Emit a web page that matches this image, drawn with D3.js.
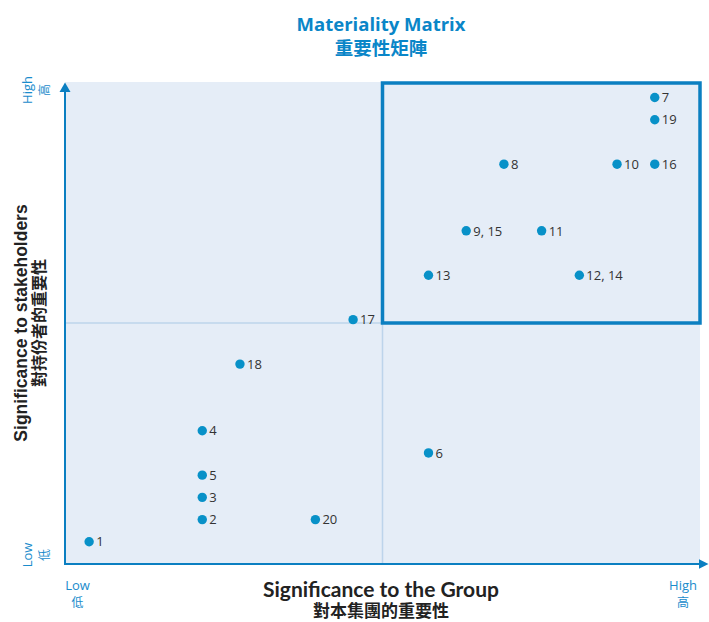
<!DOCTYPE html>
<html><head><meta charset="utf-8">
<script src="https://cdn.jsdelivr.net/npm/d3@7"></script>
<style>
html,body{margin:0;padding:0;background:#fff;}
svg{display:block;}
</style></head>
<body>
<script>
// ---- data ----
const labels = ["1","2","3","4","5","6","7","8","9, 15","10","11","12, 14","13","16","17","18","19","20"];
const groupScore = [1,4,4,4,4,10,16,12,11,15,13,14,10,16,8,5,16,7];        // x: significance to the Group
const stakeholderScore = [1,2,3,6,4,5,21,18,15,18,15,13,13,18,11,9,20,2];  // y: significance to stakeholders
const xDomain = [0.36, 17.2];
const yDomain = [0, 21.7];
const lowLabel = ["Low","低"];
const highLabel = ["High","高"];
const titleLines = ["Materiality Matrix","重要性矩陣"];
const xTitle = ["Significance to the Group","對本集團的重要性"];
const yTitle = ["Significance to stakeholders","對持份者的重要性"];

const W = 709, H = 622;
const x = d3.scaleLinear().domain(xDomain).range([65, 700]);
const y = d3.scaleLinear().domain(yDomain).range([564, 82]);
const xMid = (xDomain[0]+xDomain[1])/2, yMid = (yDomain[0]+yDomain[1])/2;

const blue = "#0b7fc1", dot = "#0891c8", tick = "#1a8ccc";
const svg = d3.select("body").append("svg").attr("width", W).attr("height", H);

// background
svg.append("rect").attr("x", x(xDomain[0])).attr("y", y(yDomain[1]))
  .attr("width", x(xDomain[1]) - x(xDomain[0])).attr("height", y(yDomain[0]) - y(yDomain[1]))
  .attr("fill", "#e5edf7");

// quadrant lines
svg.append("line").attr("x1", x(xMid)).attr("x2", x(xMid)).attr("y1", y(yDomain[0])).attr("y2", y(yDomain[1]))
  .attr("stroke", "#bdd4eb").attr("stroke-width", 1.5);
svg.append("line").attr("x1", x(xDomain[0])).attr("x2", x(xDomain[1])).attr("y1", y(yMid)).attr("y2", y(yMid))
  .attr("stroke", "#bdd4eb").attr("stroke-width", 1.5);

// high-high box
svg.append("rect").attr("x", x(xMid)).attr("y", y(yDomain[1]) + 1)
  .attr("width", x(xDomain[1]) - x(xMid)).attr("height", y(yMid) - y(yDomain[1]) - 1)
  .attr("fill", "none").attr("stroke", blue).attr("stroke-width", 3.5);

// axes
svg.append("line").attr("x1", x(xDomain[0])).attr("x2", x(xDomain[0])).attr("y1", y(yDomain[0])).attr("y2", y(yDomain[1]) + 8)
  .attr("stroke", blue).attr("stroke-width", 2);
svg.append("line").attr("x1", x(xDomain[0]) - 1).attr("x2", x(xDomain[1])).attr("y1", y(yDomain[0])).attr("y2", y(yDomain[0]))
  .attr("stroke", blue).attr("stroke-width", 2);
const ax = x(xDomain[0]), ay = y(yDomain[1]);
svg.append("path").attr("d", `M${ax},${ay+0.5} L${ax-5.5},${ay+10} L${ax+5.5},${ay+10} Z`).attr("fill", blue);
const bx = x(xDomain[1]), by = y(yDomain[0]);
svg.append("path").attr("d", `M${bx+8.5},${by} L${bx-1},${by-4.8} L${bx-1},${by+4.8} Z`).attr("fill", blue);

// points
const pts = labels.map((l,i)=>({l, gx: groupScore[i], sy: stakeholderScore[i]}));
svg.append("g").selectAll("circle").data(pts).join("circle")
  .attr("cx", d=>x(d.gx)).attr("cy", d=>y(d.sy)).attr("r", 4.7).attr("fill", dot);
svg.append("g").selectAll("text").data(pts).join("text")
  .attr("x", d=>x(d.gx) + 7).attr("y", d=>y(d.sy)).attr("dy", "0.36em")
  .attr("font-family", "'Open Sans', sans-serif").attr("font-size", 13).attr("fill", "#333")
  .text(d=>d.l);

// title
svg.append("text").attr("text-anchor", "middle").attr("fill", "#0a86c8").attr("font-weight", "bold")
  .attr("x", 381).attr("y", 31).attr("font-family", "'Open Sans', sans-serif").attr("font-size", 18.5).text(titleLines[0]);
svg.append("text").attr("text-anchor", "middle").attr("fill", "#0a86c8").attr("font-weight", "bold")
  .attr("x", 381).attr("y", 55).attr("font-family", "'Noto Sans CJK TC', sans-serif").attr("font-size", 18.5).text(titleLines[1]);

// x axis title
svg.append("text").attr("text-anchor", "middle").attr("fill", "#222").attr("font-weight", "bold")
  .attr("x", 381).attr("y", 596.5).attr("font-family", "Lato, sans-serif").attr("font-size", 21).text(xTitle[0]);
svg.append("text").attr("text-anchor", "middle").attr("fill", "#222").attr("font-weight", "bold")
  .attr("x", 381).attr("y", 617).attr("font-family", "'Noto Sans CJK TC', sans-serif").attr("font-size", 17).text(xTitle[1]);

// y axis title
const yt = svg.append("text").attr("text-anchor", "middle").attr("fill", "#222").attr("font-weight", "bold")
  .attr("transform", "translate(0,323) rotate(-90)");
yt.append("tspan").attr("x", 0).attr("y", 27).attr("font-family", "'Liberation Sans', Arial, sans-serif").attr("font-size", 17.5).text(yTitle[0]);
yt.append("tspan").attr("x", 0).attr("y", 45).attr("font-family", "'Noto Sans CJK TC', sans-serif").attr("font-size", 16).text(yTitle[1]);

// low/high labels
function twoLine(g, lines, tx, ty, rot) {
  const gg = g.append("g").attr("transform", `translate(${tx},${ty}) rotate(${rot})`)
    .attr("text-anchor", "middle").attr("fill", tick);
  gg.append("text").attr("x", 0).attr("y", 0).attr("font-size", 13).attr("font-family", "'Open Sans', sans-serif").text(lines[0]);
  gg.append("text").attr("x", 0).attr("y", 17).attr("font-size", 12).attr("font-family", "'Noto Sans CJK TC', sans-serif").text(lines[1]);
}
twoLine(svg, lowLabel, 77.5, 590, 0);
twoLine(svg, highLabel, 683, 590, 0);
twoLine(svg, lowLabel, 32, 555, -90);
twoLine(svg, highLabel, 32, 90, -90);
</script>
</body></html>
